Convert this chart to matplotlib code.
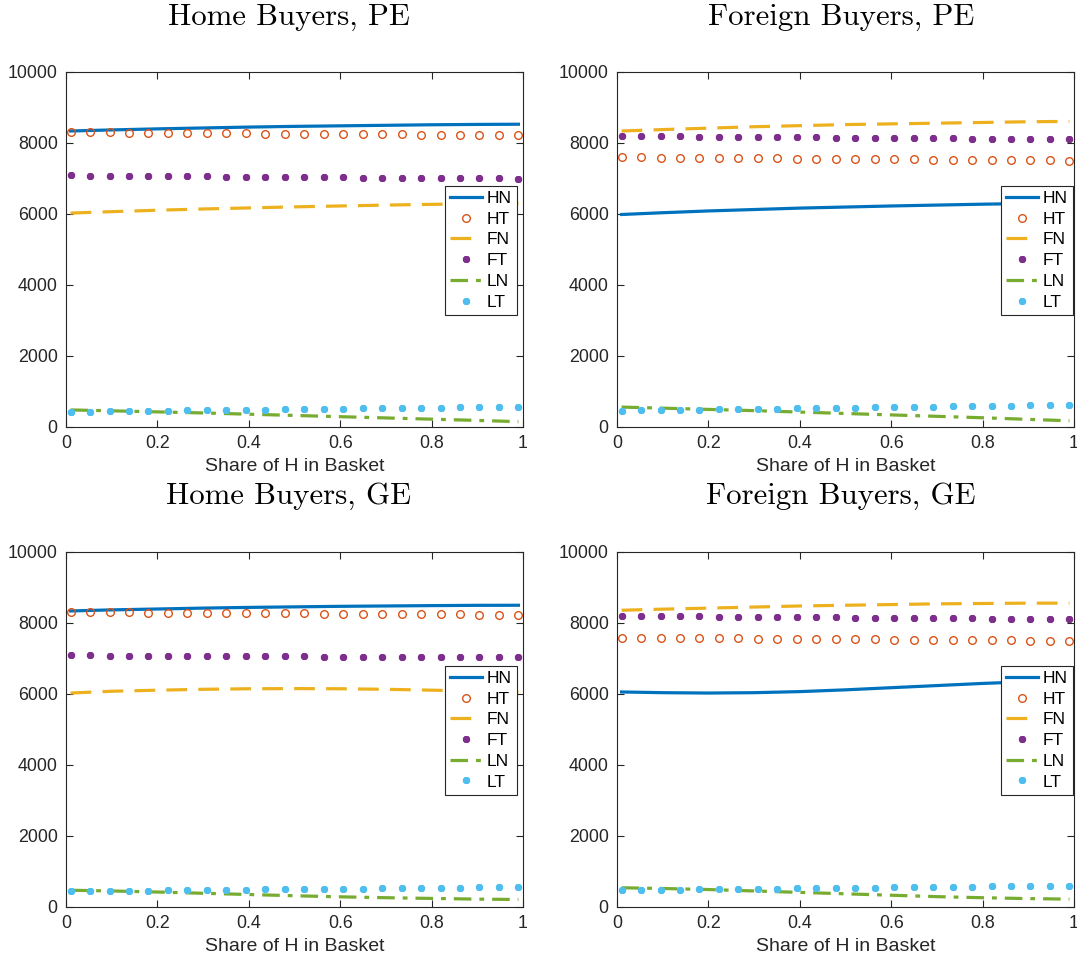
import numpy as np
import matplotlib
matplotlib.use("Agg")
import matplotlib.pyplot as plt

plt.rcParams['font.family'] = ['Liberation Sans', 'DejaVu Sans']

# x grids: line series sampled coarsely, marker series at 24 points
x_line = [0.01, 0.1, 0.2, 0.3, 0.4, 0.5, 0.6, 0.7, 0.8, 0.9, 0.99]
x_mark = np.linspace(0.01, 0.99, 24)

titles = ['Home Buyers, PE', 'Foreign Buyers, PE', 'Home Buyers, GE', 'Foreign Buyers, GE']
labels = ['HN', 'HT', 'FN', 'FT', 'LN', 'LT']

# Home Buyers, PE
hpe_HN = [8330, 8360, 8390, 8415, 8440, 8460, 8475, 8490, 8505, 8515, 8520]
hpe_FN = [6020, 6060, 6100, 6135, 6165, 6195, 6220, 6245, 6265, 6285, 6300]
hpe_LN = [480, 455, 425, 395, 360, 325, 290, 255, 220, 185, 150]
hpe_HT = [8300, 8295, 8290, 8285, 8280, 8276, 8272, 8268, 8264, 8260, 8256, 8252,
          8249, 8246, 8243, 8240, 8237, 8234, 8231, 8228, 8225, 8222, 8219, 8216]
hpe_FT = [7080, 7076, 7072, 7068, 7064, 7060, 7056, 7052, 7048, 7044, 7040, 7036,
          7032, 7028, 7024, 7020, 7016, 7012, 7008, 7004, 7000, 6997, 6994, 6991]
hpe_LT = [430, 436, 442, 448, 455, 461, 468, 474, 480, 486, 492, 498,
          504, 510, 516, 522, 528, 534, 540, 546, 552, 558, 564, 570]

# Foreign Buyers, PE
fpe_HN = [5980, 6030, 6080, 6120, 6160, 6190, 6220, 6245, 6270, 6290, 6300]
fpe_FN = [8330, 8370, 8410, 8450, 8480, 8510, 8530, 8550, 8570, 8590, 8600]
fpe_LN = [560, 530, 495, 460, 420, 380, 340, 300, 260, 215, 175]
fpe_HT = [7590, 7586, 7582, 7578, 7574, 7570, 7566, 7562, 7558, 7554, 7550, 7546,
          7542, 7538, 7534, 7530, 7526, 7522, 7518, 7514, 7510, 7506, 7502, 7498]
fpe_FT = [8190, 8186, 8182, 8178, 8174, 8170, 8166, 8162, 8158, 8154, 8150, 8146,
          8142, 8138, 8134, 8130, 8126, 8122, 8118, 8114, 8110, 8106, 8102, 8098]
fpe_LT = [460, 467, 474, 481, 488, 495, 502, 509, 516, 523, 530, 537,
          544, 551, 558, 565, 572, 579, 586, 593, 600, 607, 613, 620]

# Home Buyers, GE
hge_HN = [8330, 8360, 8385, 8410, 8430, 8445, 8460, 8470, 8480, 8488, 8490]
hge_FN = [6020, 6070, 6100, 6125, 6140, 6145, 6140, 6125, 6100, 6075, 6050]
hge_LN = [470, 450, 420, 385, 350, 315, 285, 260, 240, 220, 210]
hge_HT = [8300, 8296, 8293, 8290, 8286, 8283, 8280, 8276, 8273, 8270, 8266, 8263,
          8259, 8256, 8253, 8249, 8246, 8243, 8239, 8236, 8233, 8229, 8226, 8222]
hge_FT = [7080, 7077, 7074, 7071, 7069, 7066, 7064, 7061, 7059, 7056, 7054, 7051,
          7049, 7046, 7044, 7041, 7039, 7036, 7034, 7031, 7029, 7026, 7023, 7020]
hge_LT = [440, 445, 450, 456, 461, 466, 471, 476, 481, 486, 492, 497,
          502, 507, 512, 518, 523, 528, 533, 539, 544, 549, 554, 560]

# Foreign Buyers, GE
fge_HN = [6050, 6030, 6020, 6030, 6060, 6110, 6170, 6230, 6290, 6340, 6380]
fge_FN = [8350, 8380, 8410, 8440, 8470, 8490, 8510, 8530, 8540, 8550, 8550]
fge_LN = [540, 520, 490, 450, 410, 370, 330, 290, 260, 235, 220]
fge_HT = [7580, 7576, 7572, 7568, 7564, 7560, 7556, 7553, 7549, 7545, 7541, 7537,
          7533, 7529, 7525, 7521, 7517, 7513, 7509, 7506, 7502, 7498, 7494, 7490]
fge_FT = [8190, 8186, 8182, 8178, 8174, 8170, 8166, 8163, 8159, 8155, 8151, 8147,
          8143, 8139, 8135, 8131, 8127, 8123, 8119, 8116, 8112, 8108, 8104, 8100]
fge_LT = [470, 476, 481, 487, 493, 498, 504, 510, 515, 521, 527, 532,
          538, 544, 549, 555, 561, 566, 572, 578, 583, 589, 594, 600]

panels = [
    (hpe_HN, hpe_HT, hpe_FN, hpe_FT, hpe_LN, hpe_LT),
    (fpe_HN, fpe_HT, fpe_FN, fpe_FT, fpe_LN, fpe_LT),
    (hge_HN, hge_HT, hge_FN, hge_FT, hge_LN, hge_LT),
    (fge_HN, fge_HT, fge_FN, fge_FT, fge_LN, fge_LT),
]

# matlab default colour order
c_blue, c_red, c_yel, c_pur, c_grn, c_cyan = '#0072BD', '#D95319', '#EDB120', '#7E2F8E', '#77AC30', '#4DBEEE'
asterisk = (6, 2, 0)

fig = plt.figure(figsize=(10.77, 9.63), dpi=100)
lefts = [0.0613, 0.5729, 0.0613, 0.5729]
bottoms = [0.5566, 0.5566, 0.0582, 0.0582]
leg_x = [0.987, 0.998, 0.987, 0.998]
title_x = [0.487, 0.49, 0.487, 0.49]

for i, (HN, HT, FN, FT, LN, LT) in enumerate(panels):
    ax = fig.add_axes([lefts[i], bottoms[i], 0.4243, 0.3690])
    ax.plot(x_line, HN, color=c_blue, lw=2.3, label='HN')
    ax.plot(x_mark, HT, ls='none', marker='o', ms=5.5, mfc='none', mec=c_red, mew=1.0, label='HT')
    ax.plot(x_line, FN, color=c_yel, lw=2.3, dashes=(6.5, 3.5), label='FN')
    ax.plot(x_mark, FT, ls='none', marker=asterisk, ms=5, mec=c_pur, mfc=c_pur, mew=2.2, label='FT')
    ax.plot(x_line, LN, color=c_grn, lw=2.3, dashes=(5.5, 2.5, 1.5, 2.5), label='LN')
    ax.plot(x_mark, LT, ls='none', marker=asterisk, ms=5, mec=c_cyan, mfc=c_cyan, mew=2.2, label='LT')

    ax.set_xlim(0, 1)
    ax.set_ylim(0, 10000)
    ax.set_xticks([0, 0.2, 0.4, 0.6, 0.8, 1])
    ax.set_xticklabels(['0', '0.2', '0.4', '0.6', '0.8', '1'])
    ax.set_yticks([0, 2000, 4000, 6000, 8000, 10000])
    ax.tick_params(direction='in', top=True, right=True, length=5, width=0.8,
                   color='#262626', labelsize=12.8, labelcolor='#262626', pad=6)
    for s in ax.spines.values():
        s.set_color('#262626')
        s.set_linewidth(0.8)
    ax.set_xlabel('Share of H in Basket', fontsize=14, color='#262626', labelpad=4)
    ax.set_title(titles[i], family='cmr10', fontsize=22.2, pad=34, x=title_x[i])

    leg = ax.legend(loc='upper right', bbox_to_anchor=(leg_x[i], 0.679), fontsize=12.5,
                    fancybox=False, framealpha=1, edgecolor='#262626', handlelength=1.8,
                    handletextpad=0.3, labelspacing=0.32, borderpad=0.3, borderaxespad=0)
    leg.get_frame().set_linewidth(0.8)

fig.savefig('out.png', dpi=100)
